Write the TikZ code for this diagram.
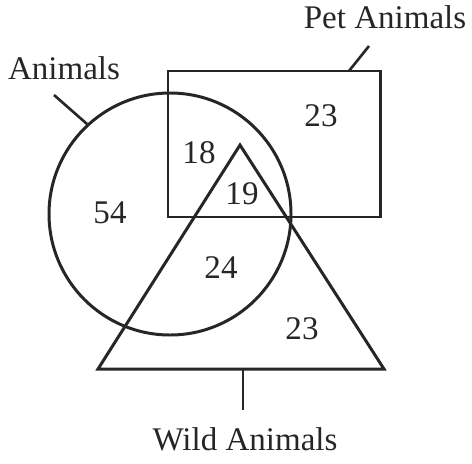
\documentclass[tikz,border=0pt]{standalone}
\usepackage{fontspec}
\setmainfont{Liberation Serif}
\begin{document}
\begin{tikzpicture}[x=0.02cm, y=-0.02cm]
    \tikzset{
      setline/.style={draw=black!85, line width=1.7pt},
      lead/.style={draw=black!85, line width=1.5pt},
      lbl/.style={font=\fontsize{18.8}{22}\selectfont, text=black!85, anchor=base, inner sep=0pt},
    }
    \useasboundingbox (0,0) rectangle (472,463);
    % ===== shapes =====
    \coordinate (cc) at (170,214);
    \coordinate (rtl) at (168,71);
    \coordinate (rbr) at (380,217);
    \coordinate (tA) at (240,145);
    \coordinate (tB) at (98,369);
    \coordinate (tC) at (384,369);
    \draw[setline] (cc) circle (121);
    \draw[setline] (rtl) rectangle (rbr);
    \draw[setline] (tA) -- (tB) -- (tC) -- cycle;
    % ===== set names =====
    \node[lbl] (animals) at (64,79) {Animals};
    \node[lbl] (pets) at (385,28) {Pet Animals};
    \node[lbl] (wild) at (245,450) {Wild Animals};
    \coordinate (a1) at (54,95);
    \coordinate (a2) at (87,124);
    \coordinate (p1) at (369,46);
    \coordinate (p2) at (349,71);
    \coordinate (w1) at (243,369);
    \coordinate (w2) at (243,410);
    \draw[lead] (a1) -- (a2);
    \draw[lead] (p1) -- (p2);
    \draw[lead] (w1) -- (w2);
    % ===== counts =====
    \node[lbl] (n54) at (110,223) {54};
    \node[lbl] (n18) at (199,163) {18};
    \node[lbl] (n19) at (242,204) {19};
    \node[lbl] (n23a) at (321,126) {23};
    \node[lbl] (n24) at (221,278) {24};
    \node[lbl] (n23b) at (302,339) {23};
  \end{tikzpicture}
\end{document}
